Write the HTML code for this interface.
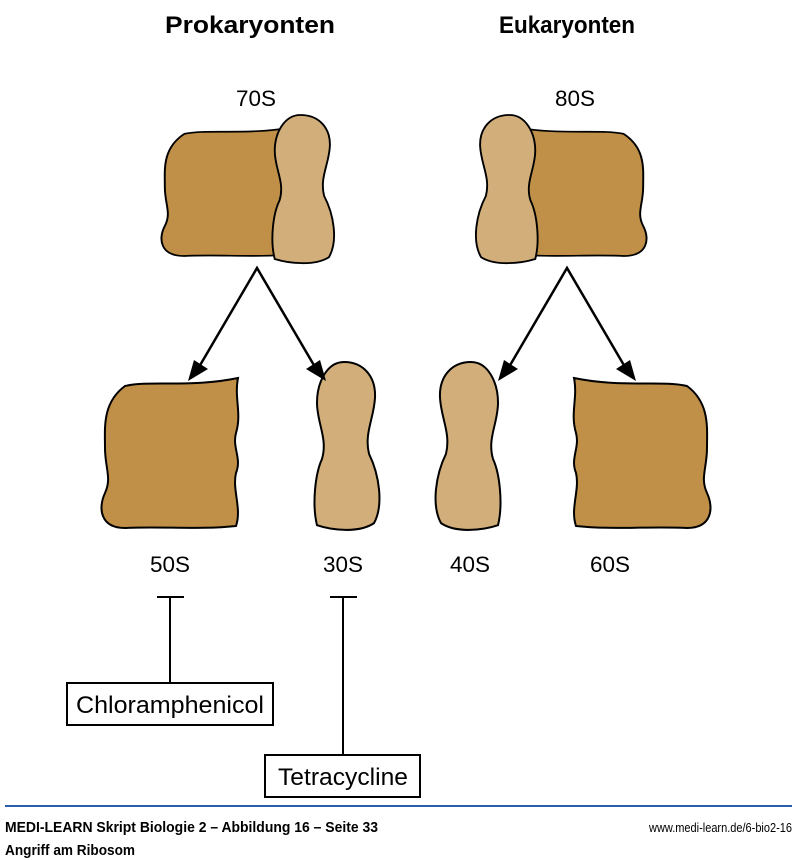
<!DOCTYPE html>
<html><head><meta charset="utf-8"><style>
html,body{margin:0;padding:0;background:#fff;width:800px;height:860px;overflow:hidden}
svg{display:block}
text{font-family:"Liberation Sans Narrow","Liberation Sans",sans-serif;fill:#000}
</style></head><body>
<svg width="800" height="860" viewBox="0 0 800 860" xmlns="http://www.w3.org/2000/svg">
<defs>
<path id="big" d="M25,8 C50,2 90,10 138,0 C134,20 142,35 136,55 C132,70 142,80 136,95 C132,112 142,130 136,148 C100,152 60,148 25,150 C0,150 -2,130 5,115 C12,100 5,90 5,70 C5,50 2,25 25,8 Z" fill="#C09048" stroke="#000" stroke-width="2"/>
<path id="small" d="M32,0 C52,0 64,15 63,35 C62,55 52,70 57,90 C67,110 72,140 62,158 C47,168 20,165 5,160 C0,140 3,110 10,95 C16,75 5,60 5,40 C5,20 15,0 32,0 Z" fill="#D2AF7A" stroke="#000" stroke-width="2"/>
</defs>
<g font-weight="bold" font-size="24" text-anchor="middle">
<text x="250" y="33" textLength="170" lengthAdjust="spacingAndGlyphs">Prokaryonten</text>
<text x="567" y="33" textLength="136" lengthAdjust="spacingAndGlyphs">Eukaryonten</text>
</g>
<g font-size="22" text-anchor="middle">
<text x="256" y="106" textLength="40" lengthAdjust="spacingAndGlyphs">70S</text><text x="575" y="106" textLength="40" lengthAdjust="spacingAndGlyphs">80S</text>
<text x="170" y="572" textLength="40" lengthAdjust="spacingAndGlyphs">50S</text><text x="343" y="572" textLength="40" lengthAdjust="spacingAndGlyphs">30S</text>
<text x="470" y="572" textLength="40" lengthAdjust="spacingAndGlyphs">40S</text><text x="610" y="572" textLength="40" lengthAdjust="spacingAndGlyphs">60S</text>
</g>
<!-- 70S -->
<use href="#big" transform="translate(160,127) scale(0.97,0.86)"/>
<use href="#small" transform="translate(270,115) scale(0.95,0.9)"/>
<!-- 80S -->
<use href="#big" transform="translate(648,127) scale(-0.97,0.86)"/>
<use href="#small" transform="translate(540,115) scale(-0.95,0.9)"/>
<!-- bottom -->
<use href="#big" transform="translate(100,378)"/>
<use href="#small" transform="translate(312,362) scale(1,1.02)"/>
<use href="#small" transform="translate(503,362) scale(-1,1.02)"/>
<use href="#big" transform="translate(712,378) scale(-1,1)"/>
<!-- arrows -->
<g stroke="#000" stroke-width="2.5" fill="none">
<path d="M199,367 L257,268 L315,367"/>
<path d="M509,367 L567,268 L625,367"/>
</g>
<g fill="#000">
<polygon points="188,381 194,360 208,369"/>
<polygon points="326,381 306,369 320,360"/>
<polygon points="498,381 504,360 518,369"/>
<polygon points="636,381 616,369 630,360"/>
</g>
<!-- inhibition -->
<g stroke="#000" stroke-width="2" fill="none">
<path d="M157,597 H184 M170,597 V683"/>
<path d="M330,597 H357 M343,597 V755"/>
<rect x="67" y="683" width="206" height="42" fill="#fff"/>
<rect x="265" y="755" width="155" height="42" fill="#fff"/>
</g>
<g font-size="24" text-anchor="middle">
<text x="170" y="713" textLength="188" lengthAdjust="spacingAndGlyphs">Chloramphenicol</text>
<text x="343" y="785" textLength="130" lengthAdjust="spacingAndGlyphs">Tetracycline</text>
</g>
<line x1="5" y1="806" x2="792" y2="806" stroke="#2a5db0" stroke-width="2"/>
<text x="5" y="832" font-size="15" font-weight="bold" textLength="373" lengthAdjust="spacingAndGlyphs">MEDI-LEARN Skript Biologie 2 – Abbildung 16 – Seite 33</text>
<text x="5" y="855" font-size="15" font-weight="bold" textLength="130" lengthAdjust="spacingAndGlyphs">Angriff am Ribosom</text>
<text x="792" y="832" font-size="13" text-anchor="end" textLength="143" lengthAdjust="spacingAndGlyphs">www.medi-learn.de/6-bio2-16</text>
</svg>
</body></html>
